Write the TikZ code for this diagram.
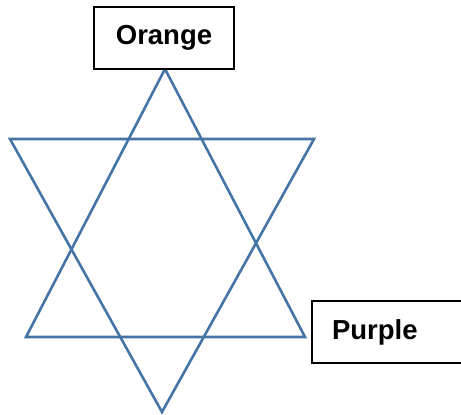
\documentclass[tikz,border=0pt]{standalone}
\usepackage{fontspec}
\setmainfont{Liberation Sans}
\begin{document}
\begin{tikzpicture}[
    x=1pt,y=-1pt,
    starLine/.style={line width=2.6pt,color=starBlue,line join=miter},
    labelBox/.style={draw=black,line width=1.3pt,fill=white,minimum height=62pt,font=\fontsize{27.5}{30}\selectfont\bfseries},
]
\definecolor{starBlue}{RGB}{70,117,165}
\useasboundingbox (0,0) rectangle (461,415);
% two triangles of the star
\coordinate (UPTOP) at (165,69);
\coordinate (UPLEFT) at (26,337);
\coordinate (UPRIGHT) at (305,337);
\coordinate (DNLEFT) at (10,139);
\coordinate (DNRIGHT) at (314,139);
\coordinate (DNBOT) at (162,412);
\draw[starLine] (UPTOP) -- (UPLEFT) -- (UPRIGHT) -- cycle;
\draw[starLine] (DNLEFT) -- (DNRIGHT) -- (DNBOT) -- cycle;
\node[labelBox,minimum width=140pt] (ORANGE) at (164,38) {Orange};
\node[labelBox,text width=130pt,align=left,inner xsep=20pt] (PURPLE) at (397,332) {Purple};
\end{tikzpicture}
\end{document}
